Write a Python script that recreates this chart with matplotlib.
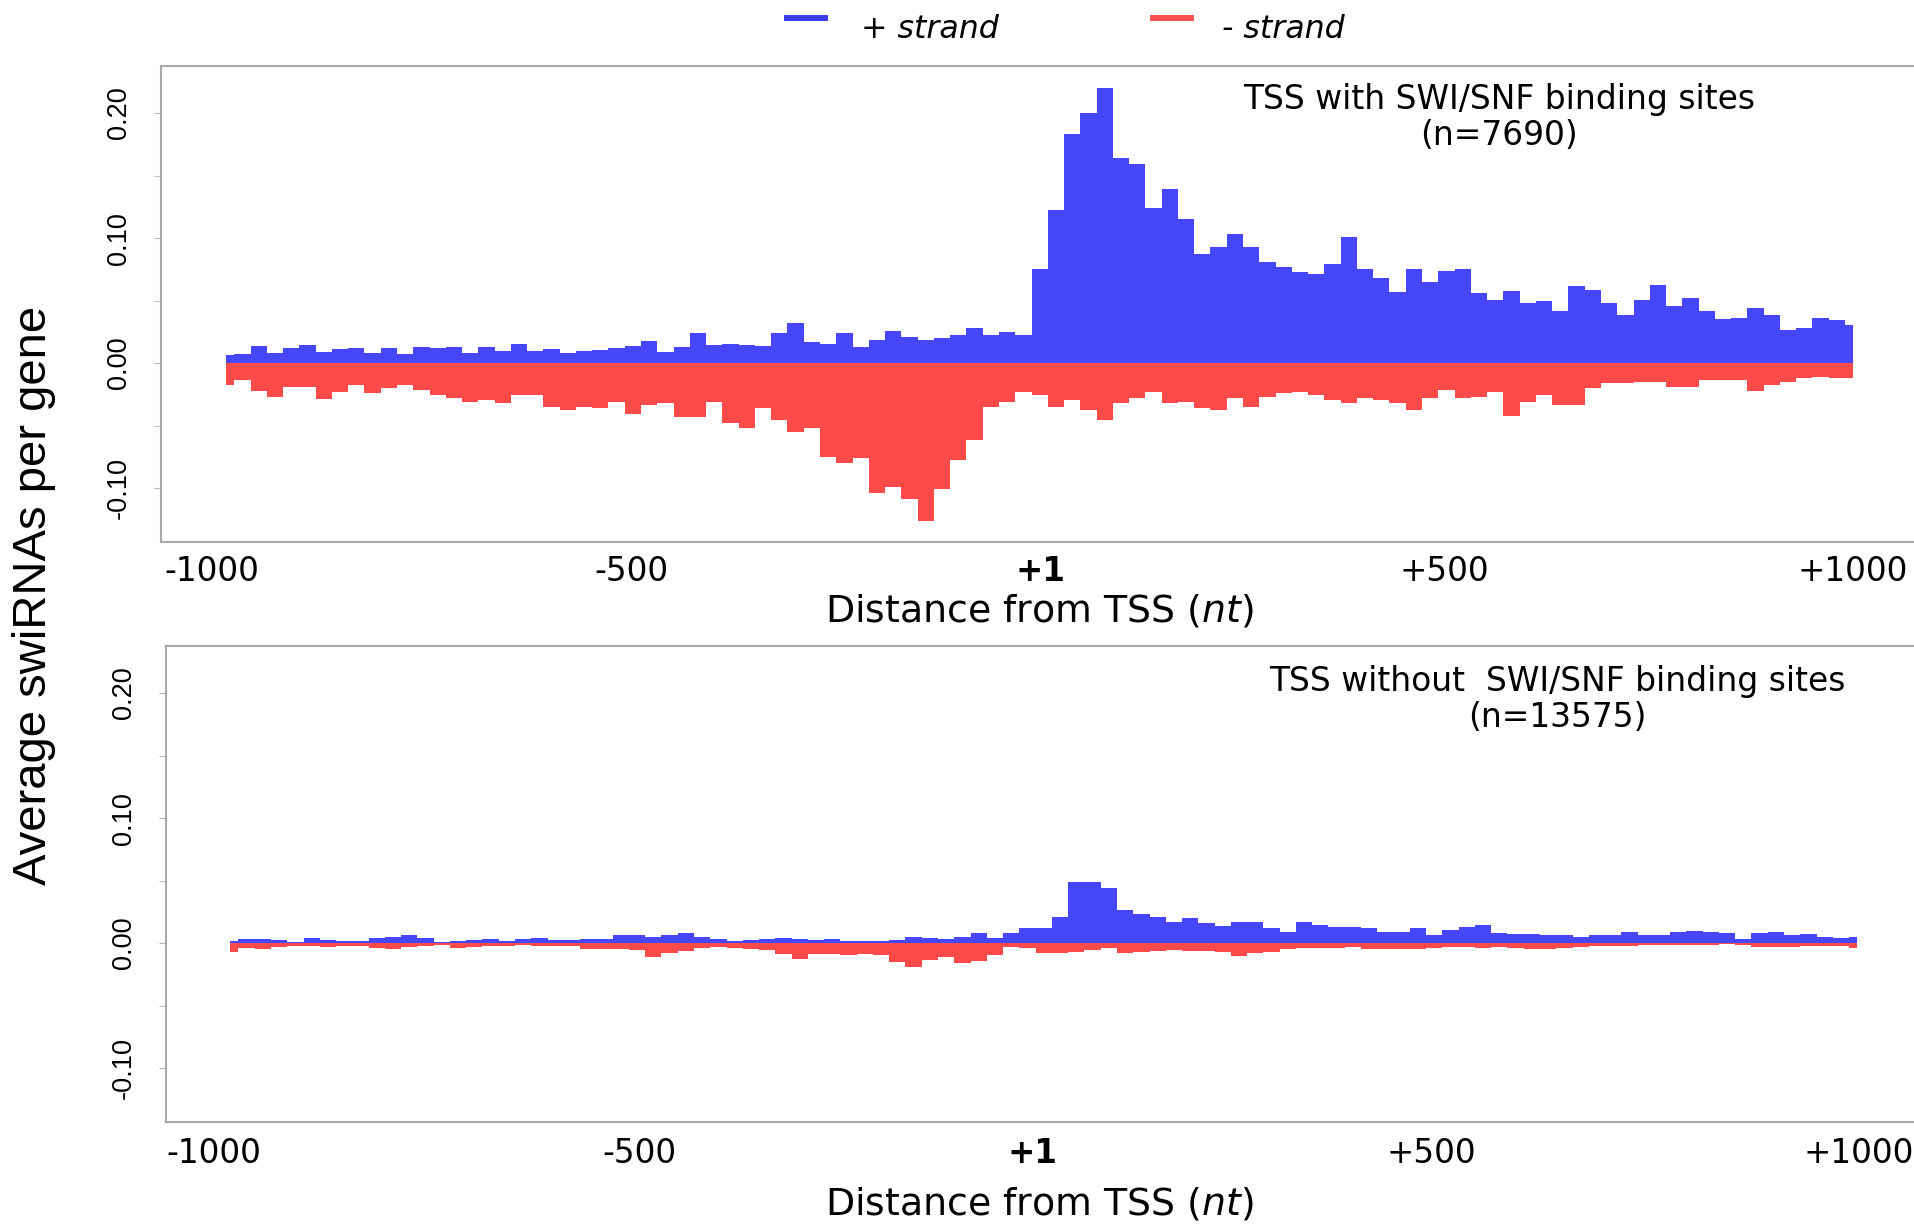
"""Average swiRNAs per gene around the TSS, with and without SWI/SNF binding sites.

Two stacked strand-split profiles (+ strand up, - strand down), saved as out.png.
"""

import numpy as np
import matplotlib
matplotlib.use("Agg")
import matplotlib.pyplot as plt  # noqa: E402
from matplotlib.lines import Line2D  # noqa: E402

# Distance from TSS (nt), one bin every 20 nt
POSITIONS = list(range(-1000, 1001, 20))

# TSS with SWI/SNF binding sites (n=7690)
WITH_PLUS = [
    0.0067, 0.0075, 0.0139, 0.0080, 0.0120, 0.0147, 0.0093, 0.0110, 0.0120, 0.0080,
    0.0120, 0.0075, 0.0133, 0.0120, 0.0133, 0.0085, 0.0133, 0.0100, 0.0155, 0.0100,
    0.0110, 0.0085, 0.0100, 0.0107, 0.0120, 0.0135, 0.0180, 0.0093, 0.0133, 0.0240,
    0.0147, 0.0155, 0.0147, 0.0139, 0.0240, 0.0320, 0.0173, 0.0155, 0.0240, 0.0133,
    0.0187, 0.0260, 0.0213, 0.0187, 0.0200, 0.0227, 0.0280, 0.0227, 0.0253, 0.0227,
    0.0750,
    0.1227, 0.1830, 0.2000, 0.2200, 0.1640, 0.1590, 0.1240, 0.1390, 0.1150, 0.0870,
    0.0930, 0.1030, 0.0930, 0.0810, 0.0770, 0.0730, 0.0710, 0.0790, 0.1010, 0.0750,
    0.0680, 0.0570, 0.0750, 0.0650, 0.0740, 0.0750, 0.0560, 0.0507, 0.0573, 0.0480,
    0.0493, 0.0413, 0.0619, 0.0587, 0.0480, 0.0387, 0.0507, 0.0627, 0.0453, 0.0520,
    0.0413, 0.0352, 0.0360, 0.0440, 0.0387, 0.0267, 0.0280, 0.0360, 0.0347, 0.0307,
]
WITH_MINUS = [
    -0.0173, -0.0133, -0.0220, -0.0267, -0.0187, -0.0187, -0.0290, -0.0227, -0.0173, -0.0235,
    -0.0200, -0.0173, -0.0213, -0.0253, -0.0280, -0.0307, -0.0293, -0.0315, -0.0253, -0.0253,
    -0.0347, -0.0373, -0.0347, -0.0360, -0.0307, -0.0405, -0.0333, -0.0320, -0.0427, -0.0427,
    -0.0307, -0.0480, -0.0520, -0.0360, -0.0453, -0.0547, -0.0520, -0.0747, -0.0800, -0.0760,
    -0.1040, -0.0987, -0.1090, -0.1260, -0.1010, -0.0773, -0.0613, -0.0347, -0.0307, -0.0227,
    -0.0253,
    -0.0347, -0.0293, -0.0373, -0.0453, -0.0320, -0.0280, -0.0227, -0.0320, -0.0307, -0.0360,
    -0.0373, -0.0280, -0.0347, -0.0267, -0.0240, -0.0227, -0.0253, -0.0293, -0.0320, -0.0280,
    -0.0293, -0.0320, -0.0373, -0.0280, -0.0213, -0.0280, -0.0267, -0.0227, -0.0420, -0.0307,
    -0.0253, -0.0333, -0.0333, -0.0200, -0.0160, -0.0160, -0.0147, -0.0147, -0.0187, -0.0187,
    -0.0133, -0.0133, -0.0133, -0.0219, -0.0173, -0.0147, -0.0120, -0.0107, -0.0120, -0.0120,
]

# TSS without SWI/SNF binding sites (n=13575)
WITHOUT_PLUS = [
    0.0020, 0.0032, 0.0037, 0.0024, 0.0013, 0.0043, 0.0024, 0.0020, 0.0019, 0.0040,
    0.0050, 0.0067, 0.0040, 0.0010, 0.0019, 0.0027, 0.0032, 0.0020, 0.0037, 0.0040,
    0.0024, 0.0027, 0.0032, 0.0035, 0.0064, 0.0064, 0.0053, 0.0067, 0.0080, 0.0053,
    0.0035, 0.0016, 0.0027, 0.0035, 0.0043, 0.0037, 0.0027, 0.0037, 0.0020, 0.0016,
    0.0019, 0.0027, 0.0053, 0.0043, 0.0035, 0.0053, 0.0080, 0.0040, 0.0085, 0.0125,
    0.0120,
    0.0213, 0.0493, 0.0493, 0.0440, 0.0267, 0.0235, 0.0213, 0.0173, 0.0205, 0.0160,
    0.0139, 0.0173, 0.0173, 0.0120, 0.0093, 0.0173, 0.0147, 0.0128, 0.0133, 0.0120,
    0.0093, 0.0093, 0.0120, 0.0067, 0.0107, 0.0128, 0.0147, 0.0085, 0.0075, 0.0075,
    0.0067, 0.0067, 0.0053, 0.0064, 0.0067, 0.0091, 0.0067, 0.0067, 0.0091, 0.0101,
    0.0093, 0.0080, 0.0032, 0.0080, 0.0091, 0.0067, 0.0075, 0.0053, 0.0045, 0.0053,
]
WITHOUT_MINUS = [
    -0.0067, -0.0037, -0.0048, -0.0032, -0.0021, -0.0024, -0.0027, -0.0024, -0.0019, -0.0040,
    -0.0048, -0.0032, -0.0021, -0.0016, -0.0037, -0.0032, -0.0024, -0.0021, -0.0013, -0.0019,
    -0.0021, -0.0021, -0.0048, -0.0043, -0.0045, -0.0053, -0.0107, -0.0080, -0.0059, -0.0040,
    -0.0027, -0.0037, -0.0043, -0.0053, -0.0088, -0.0128, -0.0085, -0.0085, -0.0093, -0.0085,
    -0.0093, -0.0147, -0.0187, -0.0133, -0.0107, -0.0155, -0.0139, -0.0093, -0.0032, -0.0040,
    -0.0080,
    -0.0080, -0.0067, -0.0053, -0.0040, -0.0075, -0.0067, -0.0059, -0.0053, -0.0059, -0.0064,
    -0.0069, -0.0101, -0.0080, -0.0067, -0.0043, -0.0035, -0.0037, -0.0037, -0.0029, -0.0045,
    -0.0048, -0.0048, -0.0043, -0.0035, -0.0029, -0.0029, -0.0037, -0.0027, -0.0035, -0.0043,
    -0.0048, -0.0040, -0.0029, -0.0021, -0.0021, -0.0019, -0.0011, -0.0013, -0.0013, -0.0011,
    -0.0013, -0.0008, -0.0013, -0.0027, -0.0032, -0.0027, -0.0021, -0.0021, -0.0021, -0.0040,
]

XTICK_LABELS = ["-1000", "-500", "+1", "+500", "+1000"]
# label anchors as placed in the original (not quite evenly spaced)
TOP_XTICKS = [-1018, -502, 1, 498, 1000]
BOTTOM_XTICKS = [-1020, -497, -14, 476, 1002]
YTICKS = [-0.10, 0.00, 0.10, 0.20]

BLUE = "#4646fb"
RED = "#ff4a4a"
SPINE = "#a9a9a9"
SANS = "DejaVu Sans"
ARIAL = "Liberation Sans"
BIN = 20


# Bars of one strand; the end bins are halved so the profile stops at +/-1000.
def strand_bars(ax, values, color):
    lefts = [max(p - BIN / 2, POSITIONS[0]) for p in POSITIONS]
    rights = [min(p + BIN / 2, POSITIONS[-1]) for p in POSITIONS]
    widths = [r - l for l, r in zip(lefts, rights)]
    ax.bar(lefts, values, width=widths, align="edge", color=color, linewidth=0)


# Draw one strand-split profile into an axes.
def draw_panel(ax, plus, minus, xlim, xticks, tick_pad, title, n_label, title_xy):
    strand_bars(ax, plus, BLUE)
    strand_bars(ax, minus, RED)
    ax.set_xlim(*xlim)
    ax.set_ylim(-0.143, 0.2376)

    for side in ("left", "top", "bottom"):
        ax.spines[side].set_color(SPINE)
        ax.spines[side].set_linewidth(1.5)
    ax.spines["right"].set_visible(False)

    ax.set_xticks(xticks)
    ax.set_xticklabels(XTICK_LABELS, fontsize=23.5, family=SANS)
    ax.get_xticklabels()[2].set_fontweight("bold")
    ax.tick_params(axis="x", length=0, pad=tick_pad)

    ax.set_yticks(np.arange(-0.10, 0.2001, 0.05), minor=True)
    ax.set_yticks(YTICKS)
    ax.set_yticklabels([f"{v:.2f}" for v in YTICKS], fontsize=19.5, family=ARIAL,
                       rotation=90, va="center")
    ax.tick_params(axis="y", which="both", direction="out", length=5,
                   color="#b5b5b5", pad=16)

    tx, ty = title_xy
    ax.figure.text(tx, ty, title, ha="center", va="center", fontsize=23.7, family=SANS)
    ax.figure.text(tx, ty - 0.0294, n_label, ha="center", va="center",
                   fontsize=23.7, family=SANS)


def main() -> None:
    fig = plt.figure(figsize=(19.15, 12.26), dpi=100)

    top = fig.add_axes([0.0841, 0.5579, 0.9159, 0.3883])
    draw_panel(top, WITH_PLUS, WITH_MINUS, (-1080, 1076), TOP_XTICKS, 9,
               "TSS with SWI/SNF binding sites", "(n=7690)", (0.7828, 0.9185))

    bottom = fig.add_axes([0.0867, 0.0848, 0.9133, 0.3883])
    draw_panel(bottom, WITHOUT_PLUS, WITHOUT_MINUS, (-1079, 1071), BOTTOM_XTICKS, 11,
               "TSS without  SWI/SNF binding sites", "(n=13575)", (0.8131, 0.4440))

    xlabel = r"Distance from TSS ($\mathit{nt}$)"
    fig.text(0.543, 1 - 611 / 1226, xlabel, ha="center", va="center",
             fontsize=27.3, family=SANS)
    fig.text(0.543, 1 - 1204 / 1226, xlabel, ha="center", va="center",
             fontsize=27.3, family=SANS)

    fig.text(0.0178, 0.5147, "Average swiRNAs per gene", rotation=90,
             ha="center", va="center", fontsize=34, family=ARIAL)

    # legend across the top
    y_leg = 1 - 18 / 1226
    fig.add_artist(Line2D([0.4094, 0.4324], [y_leg, y_leg], transform=fig.transFigure,
                          color="#3c3cf0", lw=4.3, solid_capstyle="butt"))
    fig.add_artist(Line2D([0.6005, 0.6235], [y_leg, y_leg], transform=fig.transFigure,
                          color="#ff5252", lw=4.3, solid_capstyle="butt"))
    fig.text(0.4496, 1 - 30 / 1226, "+ strand", ha="left", va="center",
             fontsize=22.8, style="italic", family=SANS)
    fig.text(0.6381, 1 - 30 / 1226, "- strand", ha="left", va="center",
             fontsize=22.8, style="italic", family=SANS)

    fig.savefig("out.png", dpi=100, facecolor="white")
    plt.close(fig)


if __name__ == "__main__":
    main()
